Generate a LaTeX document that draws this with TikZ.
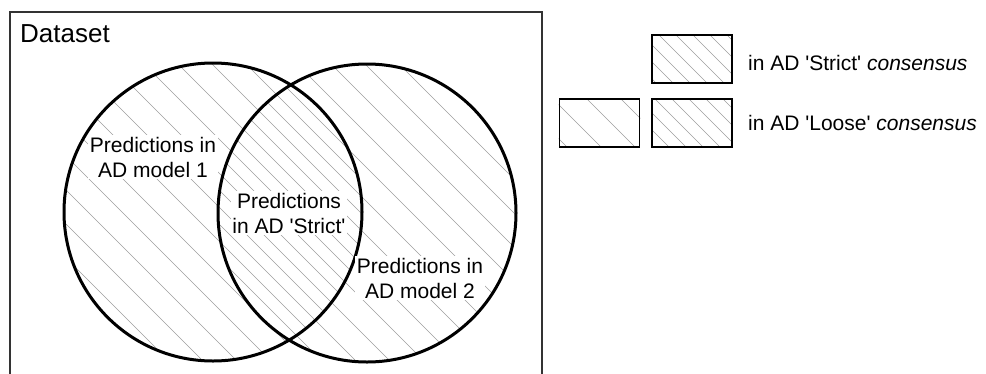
\documentclass[tikz,border=0pt]{standalone}
\usepackage{fontspec}
\setmainfont{Liberation Sans}
% diagonal hatching in picture coordinates: #1 offset, #2 spacing
\newcommand\drawhatch[2]{%
  \foreach \k in {-30,...,50}{
    \draw[hatchline] ({#1+#2*\k},-10) -- ++(393,393);}}
\tikzset{
  hatchline/.style={draw=black!38, line width=0.65pt},
  venn/.style={circle, minimum size=298pt, inner sep=0pt},
  ring/.style={venn, draw=black, line width=3pt},
  frame/.style={draw=black!80, line width=1.6pt},
  lbl/.style={fill=white, inner sep=1.5pt, align=center,
    font=\fontsize{21}{25}\selectfont},
  title/.style={inner sep=0pt, font=\fontsize{26}{30}\selectfont},
  legtxt/.style={inner sep=0pt, font=\fontsize{21}{25}\selectfont},
  legbox/.style={draw=black, line width=1.8pt, minimum width=80pt,
    minimum height=48pt, inner sep=0pt},
}
\begin{document}
\begin{tikzpicture}[x=1pt, y=-1pt]
  \useasboundingbox (0,0) rectangle (986,373);

  % dataset frame (open at the bottom)
  \draw[frame] (10,380) |- (542,12) -- (542,380);
  \node[title, anchor=base west] (ds) at (20,42) {Dataset};

  % the two model domains
  \node[venn] (m1) at (213,212) {};
  \node[venn] (m2) at (367,213) {};
  % hatching, offset so that the overlap is twice as dense
  \begin{scope}
    \clip (m1.center) circle[radius=149pt];
    \drawhatch{104}{34}
  \end{scope}
  \begin{scope}
    \clip (m2.center) circle[radius=149pt];
    \drawhatch{121}{34}
  \end{scope}
  % outlines on top of the hatching
  \node[ring] (r1) at (m1) {};
  \node[ring] (r2) at (m2) {};

  % region labels
  \node[lbl] (t1) at (153,157) {Predictions in\\AD model 1};
  \node[lbl] (t12) at (289,213) {Predictions\\in AD \textquotesingle Strict\textquotesingle};
  \node[lbl] (t2) at (420,278) {Predictions in\\AD model 2};

  % legend boxes
  \node[legbox] (bs) at (692,59) {};
  \node[legbox] (bl1) at (599.5,123) {};
  \node[legbox] (bl2) at (692,123) {};
  \begin{scope}
    \clip (bs.south west) rectangle (bs.north east);
    \drawhatch{104}{17}
  \end{scope}
  \begin{scope}
    \clip (bl1.south west) rectangle (bl1.north east);
    \drawhatch{104}{34}
  \end{scope}
  \begin{scope}
    \clip (bl2.south west) rectangle (bl2.north east);
    \drawhatch{104}{17}
  \end{scope}
  \node[legbox] (bso) at (bs) {};
  \node[legbox] (bl1o) at (bl1) {};
  \node[legbox] (bl2o) at (bl2) {};

  \node[legtxt, anchor=base west] (ls) at (748,70)
    {in AD \textquotesingle Strict\textquotesingle{} \textit{consensus}};
  \node[legtxt, anchor=base west] (ll) at (748,130)
    {in AD \textquotesingle Loose\textquotesingle{} \textit{consensus}};
\end{tikzpicture}
\end{document}
